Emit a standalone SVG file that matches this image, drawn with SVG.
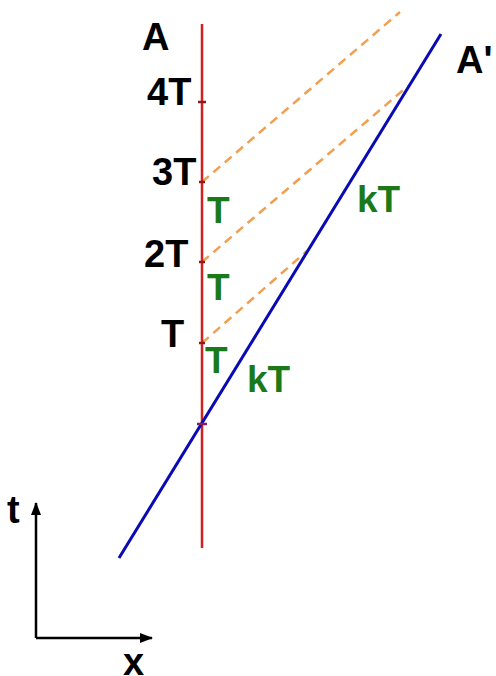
<svg xmlns="http://www.w3.org/2000/svg" width="496" height="676" viewBox="0 0 496 676">
<defs>
<style>
.lbl{font-family:"Liberation Sans",Arial,sans-serif;font-weight:bold;font-size:38px;fill:#000}
.grn{font-family:"Liberation Sans",Arial,sans-serif;font-weight:bold;font-size:37px;fill:#1a7a1a}
.dash{stroke:#f0a050;stroke-width:2.5;stroke-dasharray:9 6;fill:none}
.axis{stroke:#000;stroke-width:2.5;fill:none}
.tick{stroke:#901818;stroke-width:2.5}
</style>
<marker id="ah" viewBox="0 0 13 10" refX="12" refY="5" markerWidth="13" markerHeight="10" markerUnits="userSpaceOnUse" orient="auto">
<path d="M0,0 L13,5 L0,10 Z" fill="#000"/>
</marker>
</defs>
<rect width="496" height="676" fill="#fff"/>
<g id="connectors">
<line class="dash" x1="202" y1="182" x2="400" y2="12"/>
<line class="dash" x1="202" y1="262" x2="408" y2="86"/>
<line class="dash" x1="202" y1="343" x2="307" y2="251"/>
</g>
<g id="worldline-A">
<line x1="202" y1="24" x2="202" y2="548" stroke="#d42020" stroke-width="2.5"/>
<line class="tick" x1="198" y1="102" x2="206" y2="102"/>
<line class="tick" x1="199" y1="182" x2="205" y2="182"/>
<line class="tick" x1="199" y1="262" x2="205" y2="262"/>
<line class="tick" x1="199" y1="343" x2="205" y2="343"/>
</g>
<g id="worldline-A-prime">
<line x1="119" y1="558" x2="441" y2="34" stroke="#0a0ab4" stroke-width="3"/>
<line x1="197" y1="424" x2="207" y2="424" stroke="#802060" stroke-width="2.5"/>
</g>
<g id="labels-A">
<text class="lbl" x="142" y="50">A</text>
<text class="lbl" x="147" y="105">4T</text>
<text class="lbl" x="152" y="185">3T</text>
<text class="lbl" x="144" y="267">2T</text>
<text class="lbl" x="161" y="347">T</text>
<text class="lbl" x="456" y="73">A'</text>
</g>
<g id="labels-T">
<text class="grn" x="207" y="223">T</text>
<text class="grn" x="207" y="300">T</text>
<text class="grn" x="205" y="373">T</text>
<text class="grn" x="247" y="392">kT</text>
<text class="grn" x="357" y="212">kT</text>
</g>
<g id="axes">
<line class="axis" x1="36" y1="638" x2="36" y2="503" marker-end="url(#ah)"/>
<line class="axis" x1="36" y1="638" x2="152" y2="638" marker-end="url(#ah)"/>
<text class="lbl" x="7" y="523">t</text>
<text class="lbl" x="123" y="675">x</text>
</g>
</svg>
